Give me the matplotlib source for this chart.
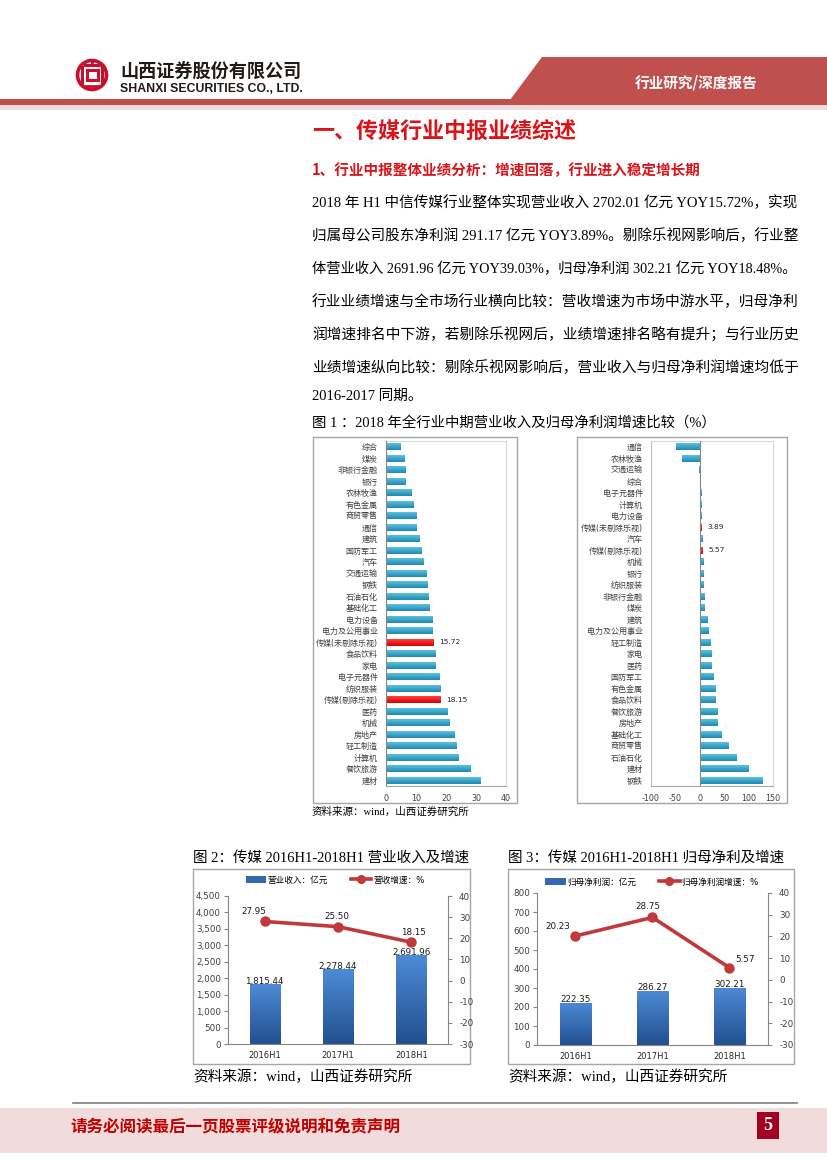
import numpy as np
import matplotlib
matplotlib.use('Agg')
import matplotlib.pyplot as plt
from matplotlib.patches import Rectangle, Polygon, Circle
from matplotlib.colors import LinearSegmentedColormap
from matplotlib.ticker import FuncFormatter, MultipleLocator
from matplotlib.lines import Line2D

W, H = 827, 1169
CJK = 'Noto Sans CJK SC'
SERIF = ['Liberation Serif', CJK]
SANS = ['DejaVu Sans', CJK]
plt.rcParams['font.family'] = SANS
plt.rcParams['axes.unicode_minus'] = False

# ---------------- data ----------------
rev_industries = ['综合', '煤炭', '非银行金融', '银行', '农林牧渔', '有色金属', '商贸零售', '通信',
                  '建筑', '国防军工', '汽车', '交通运输', '钢铁', '石油石化', '基础化工', '电力设备',
                  '电力及公用事业', '传媒(未剔除乐视)', '食品饮料', '家电', '电子元器件', '纺织服装',
                  '传媒(剔除乐视)', '医药', '机械', '房地产', '轻工制造', '计算机', '餐饮旅游', '建材']
rev_growth = [4.7, 6.2, 6.5, 6.5, 8.5, 9.1, 10.1, 10.1, 11.1, 11.8, 12.5, 13.4, 13.8, 14.1, 14.4, 15.4,
              15.4, 15.72, 16.4, 16.4, 17.7, 18.1, 18.15, 20.4, 21.2, 22.7, 23.4, 24.0, 28.0, 31.6]

np_industries = ['通信', '农林牧渔', '交通运输', '综合', '电子元器件', '计算机', '电力设备',
                 '传媒(未剔除乐视)', '汽车', '传媒(剔除乐视)', '机械', '银行', '纺织服装', '非银行金融',
                 '煤炭', '建筑', '电力及公用事业', '轻工制造', '家电', '医药', '国防军工', '有色金属',
                 '食品饮料', '餐饮旅游', '房地产', '基础化工', '商贸零售', '石油石化', '建材', '钢铁']
np_growth = [-49, -37, -0.8, 0.4, 3.0, 3.3, 3.5, 3.89, 4.8, 5.57, 6.8, 7.0, 7.6, 8.3, 9.0, 14.5,
             17.5, 21.5, 23.5, 24.5, 28.0, 32.0, 32.5, 36.0, 36.5, 44.0, 58.0, 75.0, 99.0, 129.0]
highlight = ['传媒(未剔除乐视)', '传媒(剔除乐视)']

periods = ['2016H1', '2017H1', '2018H1']
revenue = [1815.44, 2278.44, 2691.96]
revenue_growth = [27.95, 25.50, 18.15]
profit = [222.35, 286.27, 302.21]
profit_growth = [20.23, 28.75, 5.57]

para_lines = [
    '2018 年 H1 中信传媒行业整体实现营业收入 2702.01 亿元 YOY15.72%，实现',
    '归属母公司股东净利润 291.17 亿元 YOY3.89%。剔除乐视网影响后，行业整',
    '体营业收入 2691.96 亿元 YOY39.03%，归母净利润 302.21 亿元 YOY18.48%。',
    '行业业绩增速与全市场行业横向比较：营收增速为市场中游水平，归母净利',
    '润增速排名中下游，若剔除乐视网后，业绩增速排名略有提升；与行业历史',
    '业绩增速纵向比较：剔除乐视网影响后，营业收入与归母净利润增速均低于',
    '2016-2017 同期。',
]

# ---------------- figure ----------------
fig = plt.figure(figsize=(W / 100, H / 100), dpi=100)
fig.patch.set_facecolor('white')
renderer = fig.canvas.get_renderer()

bg = fig.add_axes([0, 0, 1, 1])
bg.set_xlim(0, W)
bg.set_ylim(H, 0)
bg.axis('off')


def ax_px(x0, y0, x1, y1):
    return fig.add_axes([x0 / W, 1 - y1 / H, (x1 - x0) / W, (y1 - y0) / H])


def fit_text(x, y, s, width, fs=10, **kw):
    t = bg.text(x, y, s, fontsize=fs, **kw)
    bb = t.get_window_extent(renderer=renderer)
    t.set_fontsize(fs * width / bb.width)
    return t


def grad_bars(ax, bars, c_top, c_bot):
    cmap = LinearSegmentedColormap.from_list('g', [c_bot, c_top])
    grad = np.linspace(0, 1, 64).reshape(-1, 1)
    for b in bars:
        x0, y0 = b.get_x(), b.get_y()
        w, h = b.get_width(), b.get_height()
        im = ax.imshow(grad, extent=[x0, x0 + w, y0, y0 + h], origin='lower',
                       aspect='auto', cmap=cmap, zorder=b.get_zorder() + 0.1,
                       interpolation='bilinear')
        im.set_clip_path(b)


# ---------------- header ----------------
RED = '#c0504d'
bg.add_patch(Polygon([(542, 57), (827, 57), (827, 100), (510, 100)], closed=True,
                     facecolor=RED, edgecolor='none'))
bg.add_patch(Rectangle((0, 99), W, 6, facecolor=RED, edgecolor='none'))
bg.add_patch(Rectangle((0, 105), W, 5, facecolor='#f2dcdb', edgecolor='none'))
fit_text(635, 82, '行业研究/深度报告', 123, 10, color='white', fontweight='bold',
         va='center', ha='left', family=CJK)

# logo
LRED = '#c8102e'
bg.add_patch(Circle((92, 75), 14.5, fill=False, edgecolor=LRED, lw=2.6))
bg.add_patch(Rectangle((86.5, 70), 11, 10, fill=False, edgecolor=LRED, lw=2.2))
bg.add_line(Line2D([85, 99], [64.5, 64.5], color=LRED, lw=2.2))
bg.add_line(Line2D([82, 82], [67, 84], color=LRED, lw=2.2))
bg.add_line(Line2D([102, 102], [67, 84], color=LRED, lw=2.2))
bg.add_line(Line2D([92, 92], [61, 64.5], color=LRED, lw=2.0))
bg.add_line(Line2D([86, 98], [86, 86], color=LRED, lw=2.0))
fit_text(120, 72, '山西证券股份有限公司', 181, 12, color='#231815', fontweight='bold',
         va='center', family=CJK)
fit_text(120, 88.5, 'SHANXI SECURITIES CO., LTD.', 182, 8, color='#231815',
         fontweight='bold', va='center', family=['Liberation Sans'])

# ---------------- titles & paragraph ----------------
TRED = '#d9151b'
fit_text(312, 132, '一、传媒行业中报业绩综述', 265, 16, color=TRED, fontweight='bold',
         va='center', family=CJK)
fit_text(312, 170, '1、行业中报整体业绩分析：增速回落，行业进入稳定增长期', 388, 10,
         color=TRED, fontweight='bold', va='center', family=CJK)

line_y = [203, 236, 269, 302, 335, 368, 396]
sizes = []
for i, s in enumerate(para_lines[:-1]):
    t = fit_text(312, line_y[i], s, 485, 10, color='black', va='center', family=SERIF)
    sizes.append(t.get_fontsize())
bg.text(312, line_y[-1], para_lines[-1], fontsize=np.median(sizes), color='black',
        va='center', family=SERIF)

fit_text(312, 423, '图 1 ：2018 年全行业中期营业收入及归母净利润增速比较（%）', 403, 10,
         color='black', va='center', family=SERIF)
fit_text(312, 812, '资料来源：wind，山西证券研究所', 158, 10, color='black', va='center',
         family=SERIF)

# chart frames
FRAME = '#a6a6a6'
bg.add_patch(Rectangle((313, 437), 204, 366, fill=False, edgecolor=FRAME, lw=1.0))
bg.add_patch(Rectangle((577, 437), 210, 366, fill=False, edgecolor=FRAME, lw=1.0))
bg.add_patch(Rectangle((193, 869), 277, 195, fill=False, edgecolor=FRAME, lw=1.0))
bg.add_patch(Rectangle((508, 869), 286, 195, fill=False, edgecolor=FRAME, lw=1.0))

# ---------------- figure 1 ----------------
TEAL_TOP, TEAL_BOT = '#5cc2e0', '#1f88b0'
RED_TOP, RED_BOT = '#ff4040', '#d80000'


def industry_chart(ax, names, vals, xlim, xticks, label_fmt):
    n = len(names)
    pos = np.arange(n)[::-1]
    cols = ['#ff0000' if nm in highlight else '#2fa0c8' for nm in names]
    bars = ax.barh(pos, vals, height=0.58, color=cols, zorder=2)
    normal = [b for b, nm in zip(bars, names) if nm not in highlight]
    special = [b for b, nm in zip(bars, names) if nm in highlight]
    grad_bars(ax, normal, TEAL_TOP, TEAL_BOT)
    grad_bars(ax, special, RED_TOP, RED_BOT)
    for p, v, nm in zip(pos, vals, names):
        if nm in highlight:
            ax.annotate(label_fmt(v), (max(v, 0), p), xytext=(4, 0), textcoords='offset points',
                        va='center', ha='left', fontsize=5.4, color='#262626')
    ax.set_xlim(*xlim)
    ax.set_ylim(-0.5, n - 0.5)
    ax.set_yticks(pos)
    ax.set_yticklabels(names, fontsize=5.8, color='#404040', family=SANS)
    ax.set_xticks(xticks)
    ax.set_xticklabels([str(t) for t in xticks], fontsize=5.8, color='#404040')
    ax.tick_params(axis='y', length=0, pad=6)
    ax.tick_params(axis='x', length=0, pad=6)
    for side in ['top', 'right']:
        ax.spines[side].set_color('#d9d9d9')
        ax.spines[side].set_linewidth(0.8)
    ax.spines['bottom'].set_color('#a6a6a6')
    ax.spines['bottom'].set_linewidth(0.8)
    ax.spines['left'].set_color('#bfbfbf')
    ax.spines['left'].set_linewidth(0.8)
    ax.axvline(0, color='#868686', lw=0.8, zorder=3)
    ax.set_facecolor('white')


axL = ax_px(386, 441, 506, 786)
industry_chart(axL, rev_industries, rev_growth, (0, 40), [0, 10, 20, 30, 40],
               lambda v: f'{v:.2f}')
axR = ax_px(651, 441, 773, 786)
industry_chart(axR, np_industries, np_growth, (-100, 150), [-100, -50, 0, 50, 100, 150],
               lambda v: f'{v:.2f}')

# ---------------- figures 2 & 3 ----------------
fit_text(193, 858, '图 2：传媒 2016H1-2018H1 营业收入及增速', 277, 10, color='black',
         va='center', family=SERIF)
fit_text(508, 858, '图 3：传媒 2016H1-2018H1 归母净利及增速', 277, 10, color='black',
         va='center', family=SERIF)
fit_text(193, 1077, '资料来源：wind，山西证券研究所', 220, 10, color='black', va='center',
         family=SERIF)
fit_text(508, 1077, '资料来源：wind，山西证券研究所', 220, 10, color='black', va='center',
         family=SERIF)

LINE_RED = '#c0393b'
BAR_MID = '#3468b0'


def combo_chart(box, vals, growth, ymax, ystep, bar_name, line_name, leg_center, offsets):
    ax = ax_px(*box)
    x = np.arange(len(periods))
    bars = ax.bar(x, vals, width=0.41, color=BAR_MID, zorder=2)
    grad_bars(ax, bars, '#4d8ad6', '#22508f')
    for xi, v in zip(x, vals):
        ax.annotate(f'{v:,.2f}', (xi, v), xytext=(0, 2.2), textcoords='offset points',
                    ha='center', va='center', fontsize=6.3, color='#1a1a1a', zorder=5)
    ax.set_xlim(-0.5, len(periods) - 0.5)
    ax.set_ylim(0, ymax)
    ax.yaxis.set_major_locator(MultipleLocator(ystep))
    ax.yaxis.set_major_formatter(FuncFormatter(lambda v, p: f'{v:,.0f}'))
    ax.set_xticks(x)
    ax.set_xticklabels(periods, fontsize=6.0, color='#262626')
    ax.tick_params(axis='y', labelsize=6.3, colors='#404040', length=3, direction='out',
                   pad=2)
    ax.tick_params(axis='x', length=0, pad=5)
    for s in ['left', 'bottom']:
        ax.spines[s].set_color('#868686')
        ax.spines[s].set_linewidth(0.8)
    ax.spines['top'].set_visible(False)
    ax.spines['right'].set_visible(False)
    ax.tick_params(axis='y', color='#868686')

    ax2 = ax.twinx()
    ax2.plot(x, growth, color=LINE_RED, lw=2.6, marker='o', ms=6.5,
             markerfacecolor=LINE_RED, markeredgecolor=LINE_RED, zorder=4)
    for xi, g, off in zip(x, growth, offsets):
        ax2.annotate(f'{g:.2f}', (xi, g), xytext=off, textcoords='offset points',
                     ha='center', va='center', fontsize=6.3, color='#1a1a1a')
    ax2.set_ylim(-30, 40)
    ax2.yaxis.set_major_locator(MultipleLocator(10))
    ax2.tick_params(axis='y', labelsize=6.3, colors='#404040', length=3, direction='out',
                    pad=5)
    ax2.tick_params(axis='y', color='#868686')
    for s in ['top', 'left', 'bottom']:
        ax2.spines[s].set_visible(False)
    ax2.spines['right'].set_color('#868686')
    ax2.spines['right'].set_linewidth(0.8)

    leg_bar = Rectangle((0, 0), 1, 1, facecolor=BAR_MID, edgecolor='none')
    leg_line = Line2D([], [], color=LINE_RED, lw=2.6, marker='o', ms=5.5)
    fig.legend([leg_bar, leg_line], [bar_name, line_name], loc='center',
               bbox_to_anchor=(leg_center[0] / W, 1 - leg_center[1] / H), ncol=2,
               frameon=False, prop={'family': SANS, 'size': 6.2}, handlelength=2.4,
               handleheight=0.7, columnspacing=2.6, handletextpad=0.2)
    return ax, ax2


combo_chart((228, 896, 448, 1044), revenue, revenue_growth, 4500, 500,
            '营业收入：亿元', '营收增速：%', (335, 880),
            [(-8, 7.5), (-1, 7.5), (1.5, 7)])
combo_chart((537, 893, 768, 1045), profit, profit_growth, 800, 100,
            '归母净利润：亿元', '归母净利润增速：%', (652, 882),
            [(-13, 7), (-3, 8), (11, 6)])

# ---------------- footer ----------------
bg.add_line(Line2D([73, 797], [1103, 1103], color='#7f7f7f', lw=1.2))
bg.add_patch(Rectangle((0, 1108), W, 45, facecolor='#f2dcdb', edgecolor='none'))
fit_text(70, 1127, '请务必阅读最后一页股票评级说明和免责声明', 330, 12, color='#c00000',
         fontweight='bold', va='center', family=CJK)
bg.add_patch(Rectangle((757, 1112), 22, 27, facecolor='#a50021', edgecolor='none'))
bg.text(768, 1126, '5', color='white', fontsize=13, fontweight='bold', ha='center',
        va='center', family=['Liberation Serif'])

fig.savefig('out.png', dpi=100, facecolor='white')
